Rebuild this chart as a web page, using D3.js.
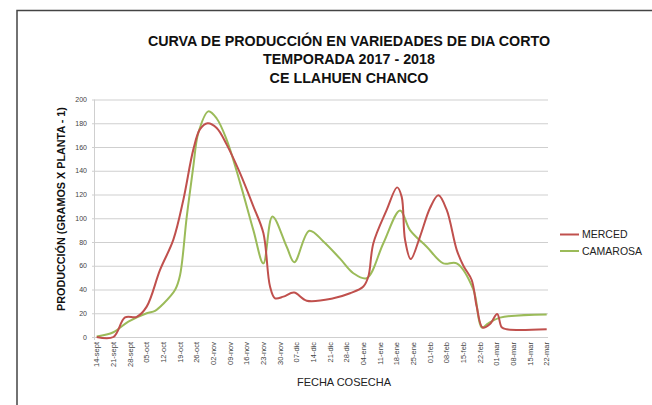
<!DOCTYPE html>
<html><head><meta charset="utf-8">
<script src="https://cdn.jsdelivr.net/npm/d3@7"></script>
<style>body{margin:0;background:#fff;} svg{display:block;font-family:"Liberation Sans",Arial,sans-serif;}</style>
</head><body>
<svg id="c" width="652" height="405"></svg>
<script>
const tickLabels = ["14-sept","21-sept","28-sept","05-oct","12-oct","19-oct","26-oct","02-nov","09-nov","16-nov","23-nov","30-nov","07-dic","14-dic","21-dic","28-dic","04-ene","11-ene","18-ene","25-ene","01-feb","08-feb","15-feb","22-feb","01-mar","08-mar","15-mar","22-mar"];
const yTicks = [0,20,40,60,80,100,120,140,160,180,200];
// days after 14-sept
const mercedDays = [0,7,11.9,16.8,21,26.6,32.2,36.4,40.6,43.4,46.6,50.4,54.6,60.2,65.8,70,72.8,74.9,78.4,82.9,88.2,99.4,106.4,112,114.1,116.2,121.8,126.2,128.1,129.5,131.9,135.8,140,143.5,147,151.2,154,157.5,159.6,162.1,165.2,168.2,170.1,172.2,189];
const mercedVals = [0,0,16.5,17,25.6,56.5,82,115.6,158,175,180,176,162,138,110,87.5,42.5,32.6,34,37.4,30.6,32.6,36.8,42.5,51,79,107,126,118,82,65.6,84.6,108.6,119.3,107,73.4,60,48,25.6,8,11,19.4,8.2,6.5,6.5];
const camarosaDays = [0,7,13.3,21,24.5,28,33,35,37.8,40.6,42.7,46.9,50.4,54.6,60.2,65.8,70,73.8,79.8,83,89.3,95.2,102.2,107.8,113.4,120.4,127.4,131.6,138.6,145.6,151.2,158.2,161.7,164.5,169.4,189];
const camarosaVals = [0.5,4,13,20,22,28,40,52,101,144,172,190,184,166,130,90,62,101.5,76,63,89.5,80.5,66,53.7,49.5,79,106.6,90,76,62,62,40,8,11.5,16.3,19];

const svg = d3.select("#c");
// frame
svg.append("path").attr("d","M17,420V10.5H660").attr("fill","none").attr("stroke","#444").attr("stroke-width",1.5);

const x = d3.scaleLinear().domain([0,189]).range([96.7,546.7]);
const y = d3.scaleLinear().domain([0,200]).range([337,99.5]);

// grid
svg.append("g").selectAll("line").data(yTicks).join("line")
  .attr("x1",92).attr("x2",548).attr("y1",d=>y(d)+0.5).attr("y2",d=>y(d)+0.5)
  .attr("stroke","#cfcfcf").attr("stroke-width",1);
svg.append("line").attr("x1",94.5).attr("x2",94.5).attr("y1",y(200)).attr("y2",y(0)+3).attr("stroke","#cfcfcf");

// y tick labels
svg.append("g").selectAll("text").data(yTicks).join("text")
  .attr("x",87).attr("y",d=>y(d)+2.5).attr("text-anchor","end")
  .attr("font-size",7).attr("fill","#444").text(d=>d);

// x tick labels
svg.append("g").selectAll("text").data(tickLabels).join("text")
  .attr("transform",(d,i)=>`translate(${x(i*7)+2.5},342) rotate(-90)`)
  .attr("text-anchor","end").attr("font-size",7.5).attr("fill","#444").text(d=>d);

const line = d3.line().curve(d3.curveCatmullRom.alpha(0.5)).x(d=>x(d[0])).y(d=>y(d[1]));
svg.append("path").datum(camarosaDays.map((d,i)=>[d,camarosaVals[i]]))
  .attr("d",line).attr("fill","none").attr("stroke","#9bbb59").attr("stroke-width",2);
svg.append("path").datum(mercedDays.map((d,i)=>[d,mercedVals[i]]))
  .attr("d",line).attr("fill","none").attr("stroke","#c0504d").attr("stroke-width",2);

// titles
const titles = ["CURVA DE PRODUCCIÓN EN VARIEDADES DE DIA CORTO","TEMPORADA 2017 - 2018","CE LLAHUEN CHANCO"];
svg.append("g").selectAll("text").data(titles).join("text")
  .attr("x",349).attr("y",(d,i)=>45.5+i*18.5).attr("text-anchor","middle")
  .attr("font-size",14.3).attr("font-weight","bold").attr("fill","#111").text(d=>d);

svg.append("text").attr("transform","translate(65,209) rotate(-90)").attr("text-anchor","middle")
  .attr("font-size",10.8).attr("font-weight","bold").attr("fill","#111").text("PRODUCCIÓN (GRAMOS X PLANTA - 1)");
svg.append("text").attr("x",344).attr("y",386).attr("text-anchor","middle")
  .attr("font-size",11).attr("fill","#222").text("FECHA COSECHA");

// legend
const leg = [["MERCED","#c0504d"],["CAMAROSA","#9bbb59"]];
const lg = svg.append("g").selectAll("g").data(leg).join("g").attr("transform",(d,i)=>`translate(560,${234.5+i*16.5})`);
lg.append("line").attr("x1",0).attr("x2",19).attr("stroke",d=>d[1]).attr("stroke-width",2);
lg.append("text").attr("x",22).attr("y",3.5).attr("font-size",10.5).attr("fill","#222").text(d=>d[0]);
</script>
</body></html>
